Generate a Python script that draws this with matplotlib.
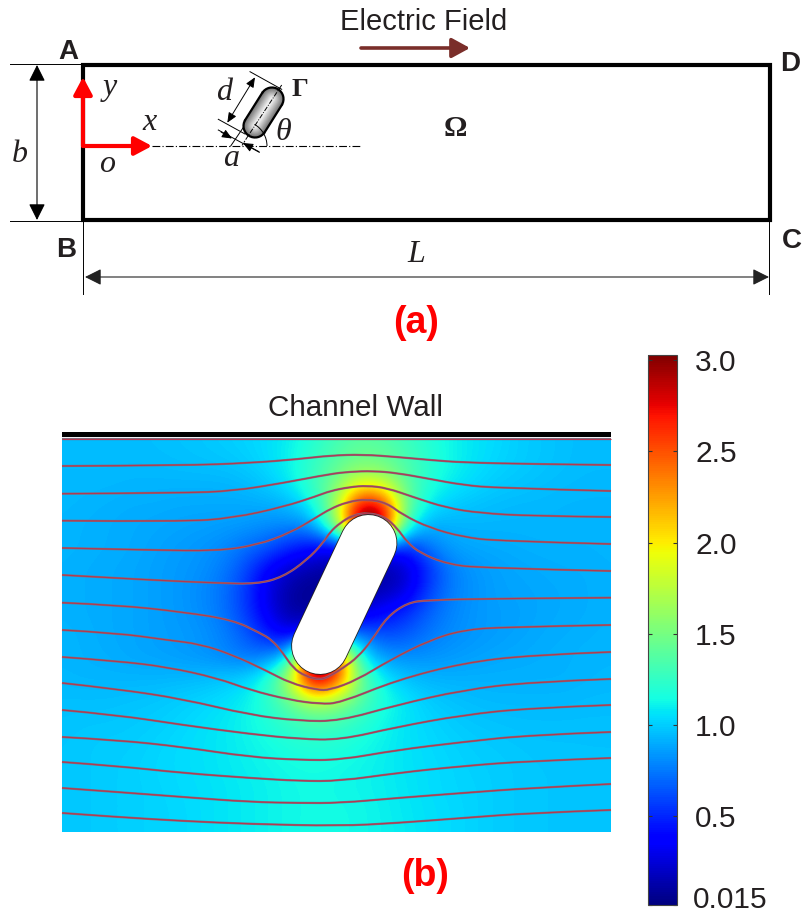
import matplotlib
matplotlib.use('Agg')
import matplotlib.pyplot as plt
import numpy as np
from matplotlib.patches import Arc, FancyArrowPatch, PathPatch, Rectangle
from matplotlib.path import Path
from matplotlib.transforms import ScaledTranslation

plt.rcParams['font.family'] = ['Liberation Sans', 'DejaVu Sans']

# field magnitude, rows are top to bottom
FIELD = [
    [.95, .95, .95, .95, .96, .97, .98, 1.0, 1.02, 1.05, 1.1, 1.2, 1.3, 1.38, 1.36, 1.28, 1.2, 1.12, 1.07, 1.04, 1.0, .98, .96, .95, .95],
    [.95, .95, .95, .95, .95, .96, .97, .98, 1.0, 1.05, 1.12, 1.25, 1.38, 1.48, 1.45, 1.34, 1.22, 1.13, 1.07, 1.03, 1.0, .98, .96, .95, .95],
    [.94, .94, .94, .93, .93, .93, .93, .93, .95, 1.0, 1.1, 1.28, 1.5, 1.8, 1.75, 1.42, 1.2, 1.1, 1.04, 1.0, .98, .96, .95, .94, .94],
    [.94, .93, .92, .91, .91, .90, .90, .90, .90, .91, .95, 1.15, 1.65, 2.8, 2.7, 1.5, 1.1, 1.0, .97, .95, .94, .94, .93, .93, .93],
    [.93, .92, .91, .90, .89, .88, .87, .86, .85, .82, .80, .85, 1.6, 3.3, 3.3, 1.25, .9, .92, .93, .93, .93, .93, .93, .93, .93],
    [.93, .92, .91, .90, .88, .86, .84, .81, .73, .65, .50, .40, .30, .5, .5, .45, .74, .87, .89, .90, .91, .92, .92, .92, .93],
    [.92, .91, .90, .89, .87, .85, .83, .77, .62, .36, .20, .12, .10, .10, .10, .20, .50, .76, .84, .87, .89, .90, .91, .91, .92],
    [.92, .91, .90, .89, .87, .85, .81, .74, .57, .28, .10, .06, .05, .10, .15, .25, .58, .77, .83, .87, .88, .89, .90, .91, .92],
    [.92, .91, .90, .89, .87, .85, .82, .75, .58, .32, .10, .10, .20, .25, .40, .52, .68, .79, .84, .86, .87, .89, .90, .91, .92],
    [.93, .92, .90, .89, .87, .86, .84, .79, .68, .47, .30, .50, .70, .78, .62, .65, .75, .81, .84, .86, .88, .90, .91, .92, .93],
    [.93, .92, .91, .89, .88, .86, .84, .80, .74, .78, 1.05, 3.3, 2.8, 1.15, .85, .82, .83, .85, .87, .89, .90, .91, .92, .93, .93],
    [.94, .93, .93, .93, .93, .94, .95, .98, 1.02, 1.2, 1.8, 3.1, 2.6, 1.5, 1.1, .97, .93, .92, .92, .92, .92, .92, .92, .93, .94],
    [.96, .96, .96, .97, .98, 1.0, 1.02, 1.05, 1.1, 1.22, 1.45, 1.75, 1.65, 1.38, 1.18, 1.08, 1.0, .97, .95, .94, .94, .94, .94, .95, .95],
    [.97, .98, .98, .99, 1.0, 1.02, 1.05, 1.08, 1.12, 1.18, 1.26, 1.32, 1.3, 1.22, 1.13, 1.07, 1.03, 1.0, .98, .97, .96, .96, .96, .96, .96],
    [.98, .99, 1.0, 1.0, 1.02, 1.04, 1.06, 1.08, 1.11, 1.14, 1.18, 1.2, 1.19, 1.15, 1.11, 1.07, 1.04, 1.02, 1.0, .99, .98, .97, .97, .97, .97],
    [.98, .99, 1.0, 1.01, 1.03, 1.04, 1.06, 1.08, 1.1, 1.12, 1.14, 1.15, 1.14, 1.12, 1.1, 1.07, 1.05, 1.03, 1.01, 1.0, .99, .98, .98, .97, .97],
    [.98, .99, 1.0, 1.01, 1.02, 1.04, 1.05, 1.07, 1.09, 1.11, 1.13, 1.14, 1.13, 1.12, 1.1, 1.08, 1.05, 1.03, 1.02, 1.0, .99, .98, .98, .97, .97],
    [.98, .99, 1.0, 1.01, 1.02, 1.03, 1.05, 1.07, 1.09, 1.11, 1.13, 1.14, 1.14, 1.13, 1.11, 1.08, 1.06, 1.04, 1.02, 1.0, .99, .98, .98, .97, .97],
    [.98, .99, 1.0, 1.01, 1.02, 1.03, 1.05, 1.07, 1.09, 1.11, 1.13, 1.14, 1.14, 1.13, 1.11, 1.09, 1.06, 1.04, 1.02, 1.0, .99, .98, .98, .97, .97],
]

# field lines, (x, y) knots in picture pixels
FIELD_LINES = [
    [(62, 438.7), (611, 438.7)],
    [(62, 466), (183, 465.5), (250, 463), (300, 459), (330, 455.5), (363, 454.5), (397, 457), (430, 460), (463, 462.5), (530, 464), (611, 465)],
    [(62, 493.7), (183, 493), (233, 491), (283, 483), (330, 474), (350, 471.7), (373, 471), (397, 473), (430, 479), (463, 485), (497, 488), (611, 491)],
    [(62, 520.7), (183, 521.7), (233, 518), (283, 507), (317, 496), (330, 491), (350, 487), (367, 485.7), (387, 488), (413, 497), (447, 508), (480, 513), (530, 516), (611, 517)],
    [(62, 548), (150, 550), (217, 551), (257, 545), (290, 533), (317, 517), (330, 509), (347, 502), (367, 499), (387, 503), (403, 515), (430, 528), (463, 537), (497, 541), (611, 544)],
    [(62, 575), (150, 580), (217, 583), (257, 584), (283, 577), (307, 560), (323, 543), (330, 532), (340, 523), (353, 515), (368, 512.7), (385, 517), (397, 528), (407, 542), (420, 553), (447, 564), (480, 568), (611, 571)],
    [(62, 602.7), (117, 605), (183, 612), (233, 620), (260, 633), (272, 640), (283, 653), (293, 668), (305, 676), (320, 680), (330, 676), (343, 668), (358, 657), (372, 640), (387, 617), (407, 603), (427, 600), (500, 598.5), (611, 597.7)],
    [(62, 630), (117, 633), (167, 640), (200, 644), (233, 655), (267, 671), (290, 683), (317, 690), (330, 690), (357, 680), (390, 660), (430, 640), (463, 630), (503, 627), (611, 625)],
    [(62, 657), (117, 661), (167, 667), (217, 678), (250, 690), (290, 700), (320, 704), (340, 703), (397, 680), (463, 663), (530, 655), (611, 652)],
    [(62, 683), (117, 689), (183, 699), (250, 715), (300, 721), (340, 721), (397, 705), (463, 690), (530, 682), (611, 679)],
    [(62, 710), (117, 715), (183, 725), (250, 734), (300, 739), (340, 740), (397, 727), (463, 715), (530, 708), (611, 705)],
    [(62, 737), (117, 740), (183, 747), (250, 757), (300, 760), (340, 760), (397, 750), (463, 742), (530, 735), (611, 732)],
    [(62, 762), (117, 766), (183, 773), (250, 778), (300, 781), (340, 781), (397, 773), (463, 766), (530, 761), (611, 758)],
    [(62, 788), (117, 792), (183, 797), (250, 802), (300, 803), (340, 803), (397, 798), (463, 793), (530, 788), (611, 784)],
    [(62, 813), (117, 817), (183, 821), (250, 824), (340, 826), (397, 823), (463, 818), (530, 813), (611, 810)],
]

CBAR_TICKS = [0.015, 0.5, 1.0, 1.5, 2.0, 2.5, 3.0]
CBAR_LABELS = ['0.015', '0.5', '1.0', '1.5', '2.0', '2.5', '3.0']

W, H = 803, 914
TEXT_DARK = '#231f20'


def arrow(ax, p0, p1, style, color='black', lw=0.8, head=(10, 5), zorder=5):
    st = f'{style},head_length={head[0]},head_width={head[1]}'
    ax.add_patch(FancyArrowPatch(p0, p1, arrowstyle=st, mutation_scale=1, color=color, lw=lw,
                                 shrinkA=0, shrinkB=0, zorder=zorder))


def seg(ax, p0, p1, **kw):
    kw.setdefault('color', 'black')
    kw.setdefault('lw', 0.7)
    ax.plot([p0[0], p1[0]], [p0[1], p1[1]], **kw)


def curve_path(pts):
    # knots act as quadratic control points so the lines come out round
    if len(pts) < 3:
        return Path(pts)
    verts = [pts[0]]
    codes = [Path.MOVETO]
    for i in range(1, len(pts) - 1):
        if i < len(pts) - 2:
            end = ((pts[i][0] + pts[i + 1][0]) / 2, (pts[i][1] + pts[i + 1][1]) / 2)
        else:
            end = pts[-1]
        verts += [pts[i], end]
        codes += [Path.CURVE3, Path.CURVE3]
    return Path(verts, codes)


fig = plt.figure(figsize=(W / 100, H / 100), dpi=100)
ax = fig.add_axes([0, 0, 1, 1])

# %% Field plot.
dx = (611 - 62) / 24 / 2
dy = (832 - 438) / 18 / 2
im = ax.imshow(np.array(FIELD), cmap='jet', vmin=0.015, vmax=3.03, aspect='auto', interpolation='bicubic',
               extent=(62 - dx, 611 + dx, 832 + dy, 438 - dy), zorder=1)
im.set_clip_path(Rectangle((62, 438), 549, 394, transform=ax.transData))

for pts in FIELD_LINES:
    ax.add_patch(PathPatch(curve_path(pts), fc='none', ec='#7d6f80', lw=1.6, zorder=2))
    ax.add_patch(PathPatch(curve_path(pts), fc='none', ec='#b5384f', lw=0.8, zorder=3))

ax.plot([368.5, 320], [543, 646], color='#222222', lw=56 * 0.72 + 1.2, solid_capstyle='round', zorder=4)
ax.plot([368.5, 320], [543, 646], color='white', lw=56 * 0.72, solid_capstyle='round', zorder=4)
ax.add_patch(Rectangle((62, 432), 549, 5, fc='black', ec='none', zorder=5))

ax.text(356, 408.5, 'Channel Wall', fontsize=21.3, color=TEXT_DARK, ha='center', va='center')
ax.text(425, 876, '(b)', fontsize=27, fontweight='bold', color='#ff0000', ha='center', va='center')

# %% Schematic.
ax.add_patch(Rectangle((83, 65), 687, 155, fc='none', ec='black', lw=3, zorder=4))
seg(ax, (10, 63.5), (83, 63.5))
seg(ax, (10, 221), (83, 221))
seg(ax, (83, 220), (83, 294))
seg(ax, (769, 220), (769, 294))
arrow(ax, (37, 65), (37, 220), '<|-|>')
arrow(ax, (85, 277), (769, 277), '<|-|>', color='#222222')

# coordinate axes and field arrow
seg(ax, (152, 146), (361, 146), ls=(0, (7, 2, 1, 2)), lw=0.8)
arrow(ax, (83, 146), (83, 77), '-|>', color='#ff0000', lw=3, head=(10.5, 5.6), zorder=6)
arrow(ax, (83, 146), (152, 146), '-|>', color='#ff0000', lw=3, head=(10.5, 5.6), zorder=6)
arrow(ax, (361, 48), (470, 48), '-|>', color='#7a2e2a', lw=2.6, head=(11, 6), zorder=5)

# small capsule, shaded with nested strokes
for width, grey in zip(np.arange(24, 3, -2), np.linspace(0.42, 0.93, 11)):
    ax.plot([272, 255], [99, 126], color=str(grey), lw=width * 0.72, solid_capstyle='round', zorder=4)
for side in (-1, 1):
    ax.plot([272 + side * 11.5 * 0.85, 255 + side * 11.5 * 0.85], [99 + side * 11.5 * 0.53, 126 + side * 11.5 * 0.53],
            color='black', lw=1.6, zorder=5)
ax.add_patch(Arc((272, 99), 23, 23, theta1=212, theta2=32, color='black', lw=1.6, zorder=5))
ax.add_patch(Arc((255, 126), 23, 23, theta1=32, theta2=212, color='black', lw=1.6, zorder=5))

seg(ax, (281.7, 85), (246.7, 138), ls=(0, (5, 1.5, 1, 1.5)), lw=0.7, zorder=6)
seg(ax, (246.7, 138), (241.7, 146), ls=(0, (2, 1.5)), lw=0.7, zorder=6)
seg(ax, (250, 71.7), (281.7, 89.3))
seg(ax, (218.3, 119.3), (245, 134))
seg(ax, (218.3, 130), (259.3, 152.3))
seg(ax, (230.7, 146), (245, 125))
arrow(ax, (255, 77.3), (227.3, 122.7), '<|-|>', head=(6, 2.6), lw=0.7)
arrow(ax, (221, 132), (232, 138.5), '-|>', head=(6, 2.6), lw=0.7)
arrow(ax, (259, 151.7), (243, 143), '-|>', head=(6, 2.6), lw=0.7)
ax.add_patch(Arc((242, 146), 50, 50, theta1=300, theta2=360, color='black', lw=0.7, zorder=5))

for label, x, y in [('A', 68.5, 52), ('B', 66, 250), ('C', 792, 241), ('D', 790, 64)]:
    ax.text(x, y, label, fontsize=20, fontweight='bold', color=TEXT_DARK, ha='center', va='center')

serif = {'family': ['Liberation Serif', 'DejaVu Serif'], 'color': TEXT_DARK, 'ha': 'center', 'va': 'center'}
for label, x, y in [('y', 110, 88), ('x', 150, 122), ('o', 107, 165), ('b', 20, 155), ('d', 224, 92),
                    ('a', 231, 159), ('\u03b8', 283, 133), ('L', 416, 255)]:
    ax.text(x, y, label, fontsize=23, style='italic', **serif)
ax.text(300, 90, '\u0393', fontsize=19, fontweight='bold', **serif)
ax.text(455, 129, '\u03a9', fontsize=21, fontweight='bold', **serif)

ax.text(423.5, 22.5, 'Electric Field', fontsize=21, color=TEXT_DARK, ha='center', va='center')
ax.text(416, 323, '(a)', fontsize=27, fontweight='bold', color='#ff0000', ha='center', va='center')

ax.set_xlim(0, W)
ax.set_ylim(H, 0)
ax.axis('off')

# %% Colorbar.
cax = fig.add_axes([648 / W, 1 - 905 / H, 29 / W, 550.5 / H])
cb = fig.colorbar(im, cax=cax, ticks=CBAR_TICKS)
cb.ax.set_yticklabels(CBAR_LABELS)
cb.outline.set_edgecolor('#444444')
cb.outline.set_linewidth(0.8)
cb.ax.tick_params(direction='in', length=3, width=0.8, color='#333333', left=True, right=True, labelsize=21.5,
                  labelcolor=TEXT_DARK, pad=13)
low_label = cb.ax.get_yticklabels()[0]
low_label.set_transform(low_label.get_transform() + ScaledTranslation(-2 / 100, 8 / 100, fig.dpi_scale_trans))

fig.savefig('out.png', dpi=100, facecolor='white')
